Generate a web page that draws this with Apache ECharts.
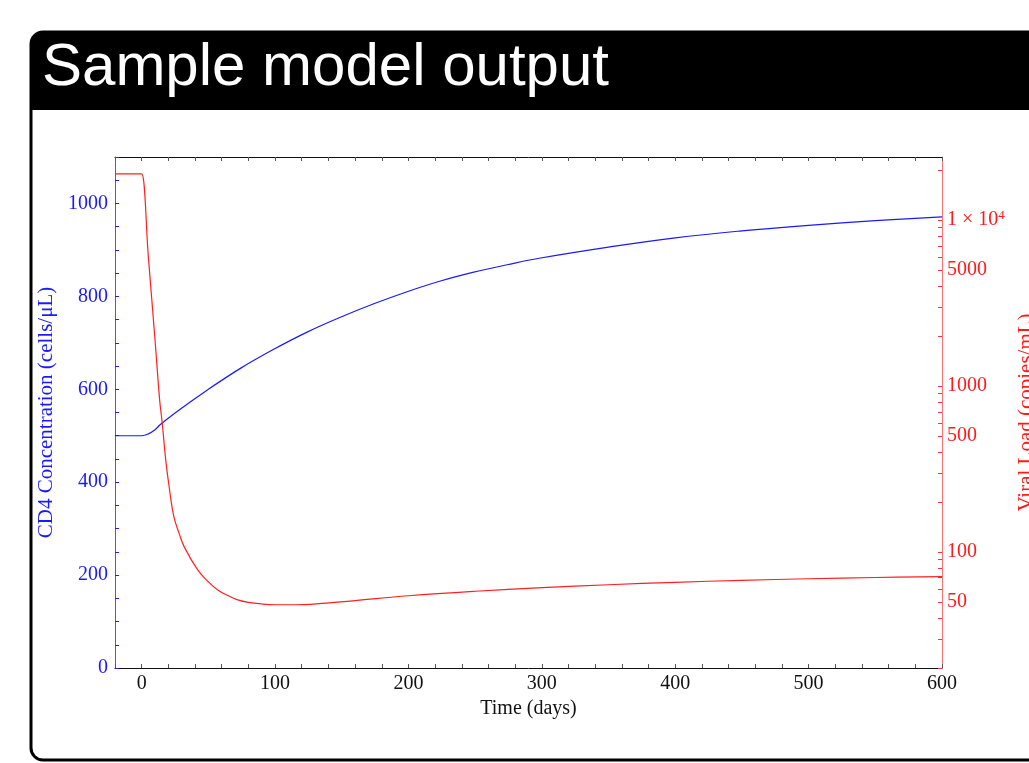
<!DOCTYPE html>
<html>
<head>
<meta charset="utf-8">
<title>Sample model output</title>
<script src="https://cdn.jsdelivr.net/npm/echarts@6/dist/echarts.min.js"></script>
<style>
  html, body { margin: 0; padding: 0; background: #fff; overflow: hidden; }
  #chart { width: 1029px; height: 763px; }
</style>
</head>
<body>
<div id="chart"></div>
<script>
// CD4 concentration (cells/uL)
const cd4Days = [-20, -2, 0, 5, 10, 14, 25, 49, 74, 99, 124, 149, 174, 199, 224, 249, 274, 298, 350, 400, 450, 500, 550, 600]
const cd4Values = [500, 500, 500, 504, 513, 524, 549, 598, 645, 686, 723, 755, 784, 810, 833, 852, 868, 882, 906, 926, 941, 953, 963, 971]

// viral load (copies/mL), log axis
const vlDays = [-20, -2, 0, 5, 10, 13.5, 15.5, 18, 20.5, 24, 28, 32, 42, 50, 57, 65, 72, 80, 90, 100, 115, 135, 160, 200, 250, 300, 350, 400, 450, 500, 550, 600]
const vlValues = [19000, 19000, 19000, 6000, 1900, 820, 590, 360, 250, 165, 130, 107, 78, 66, 59, 54.5, 51.5, 49.7, 48.6, 48.1, 48.1, 49, 51, 54.5, 58, 61, 63.5, 65.7, 67.5, 69, 70.2, 71]

const timeLabels = [0, 100, 200, 300, 400, 500, 600]
const cd4Labels = [0, 200, 400, 600, 800, 1000]
const vlLabels = [50, 100, 500, 1000, 5000, 10000]
const vlTicks = [20, 30, 40, 50, 60, 70, 80, 90, 100, 200, 300, 400, 500, 600, 700, 800, 900,
  1000, 2000, 3000, 4000, 5000, 6000, 7000, 8000, 9000, 10000, 20000]

const timeTicks = []
for (let d = -20; d <= 600; d += 20) timeTicks.push(d)
const cd4Ticks = []
for (let v = 0; v <= 1100; v += 50) cd4Ticks.push(v)

const serif = '"Liberation Serif", "DejaVu Serif", serif'
const lg = (v) => Math.log10(v)

const chart = echarts.init(document.getElementById('chart'))

const option = {
  animation: false,
  backgroundColor: '#fff',
  graphic: [
    {
      type: 'rect',
      shape: { x: 31, y: 32, width: 1020, height: 728, r: [12, 0, 0, 12] },
      style: { fill: '#fff', stroke: '#000', lineWidth: 3 },
      z: -10,
    },
    {
      type: 'rect',
      shape: { x: 31, y: 32, width: 1020, height: 78, r: [12, 0, 0, 0] },
      style: { fill: '#000' },
      z: -9,
    },
    {
      type: 'text',
      style: {
        x: 42,
        y: 68,
        text: 'Sample model output',
        fill: '#fff',
        font: '60px "Liberation Sans", Arial, sans-serif',
        verticalAlign: 'middle',
      },
      z: 10,
    },
  ],
  grid: { left: 115, right: 87, top: 157, bottom: 95, containLabel: false, outerBoundsMode: 'none' },
  xAxis: [
    {
      type: 'value',
      position: 'bottom',
      min: -20,
      max: 600,
      name: 'Time (days)',
      nameLocation: 'middle',
      nameGap: 30,
      nameTextStyle: { color: '#111', fontFamily: serif, fontSize: 20 },
      axisLine: { show: true, onZero: false, lineStyle: { color: '#111', width: 1 } },
      axisTick: { show: true, inside: true, length: 4, customValues: timeTicks, lineStyle: { color: '#555' } },
      axisLabel: { customValues: timeLabels, color: '#111', fontFamily: serif, fontSize: 20, margin: 6, formatter: (v) => String(v) },
      splitLine: { show: false },
    },
    {
      type: 'value',
      position: 'top',
      min: -20,
      max: 600,
      axisLine: { show: true, onZero: false, lineStyle: { color: '#111', width: 1 } },
      axisTick: { show: true, inside: true, length: 4, customValues: timeTicks, lineStyle: { color: '#555' } },
      axisLabel: { show: false },
      splitLine: { show: false },
    },
  ],
  yAxis: [
    {
      type: 'value',
      position: 'left',
      min: 0,
      max: 1100,
      name: 'CD4 Concentration (cells/μL)',
      nameLocation: 'middle',
      nameRotate: 90,
      nameGap: 45,
      nameTextStyle: { color: '#1a1aff', fontFamily: serif, fontSize: 21 },
      axisLine: { show: true, onZero: false, lineStyle: { color: '#5555ff', width: 1 } },
      axisTick: { show: true, inside: true, length: 4, customValues: cd4Ticks, lineStyle: { color: '#2222ff' } },
      axisLabel: { customValues: cd4Labels, color: '#1a1aff', fontFamily: serif, fontSize: 20, margin: 7, formatter: (v) => String(v) },
      splitLine: { show: false },
    },
    {
      type: 'value',
      position: 'right',
      min: lg(20),
      max: lg(24000),
      name: 'Viral Load (copies/mL)',
      nameLocation: 'middle',
      nameRotate: 90,
      nameGap: 70,
      nameTextStyle: { color: '#ff1a1a', fontFamily: serif, fontSize: 21 },
      axisLine: { show: true, onZero: false, lineStyle: { color: '#ff7070', width: 1 } },
      axisTick: { show: true, inside: true, length: 4, customValues: vlTicks.map(lg), lineStyle: { color: '#ff3333' } },
      axisLabel: {
        customValues: vlLabels.map(lg),
        color: '#ff1a1a',
        fontFamily: serif,
        fontSize: 20,
        margin: 5,
        formatter: (v) => {
          const n = Math.round(Math.pow(10, v))
          return n === 10000 ? '1 × 10{sup|4}' : String(n)
        },
        rich: {
          sup: { fontSize: 13, fontFamily: serif, color: '#ff1a1a', padding: [0, 0, 10, 0] },
        },
      },
      splitLine: { show: false },
    },
  ],
  series: [
    {
      name: 'CD4',
      type: 'line',
      xAxisIndex: 0,
      yAxisIndex: 0,
      smooth: 0.4,
      symbol: 'none',
      lineStyle: { color: '#1a1aff', width: 1.2 },
      data: cd4Days.map((d, i) => [d, cd4Values[i]]),
    },
    {
      name: 'Viral load',
      type: 'line',
      xAxisIndex: 0,
      yAxisIndex: 1,
      smooth: 0.4,
      symbol: 'none',
      lineStyle: { color: '#ff2020', width: 1.2 },
      data: vlDays.map((d, i) => [d, lg(vlValues[i])]),
    },
  ],
}

chart.setOption(option)
</script>
</body>
</html>
